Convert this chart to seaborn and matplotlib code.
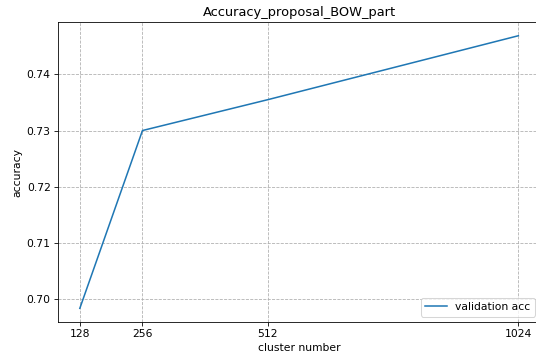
import pandas as pd
import matplotlib
matplotlib.use("Agg")
import matplotlib.pyplot as plt
import seaborn as sns

cluster_number = [128, 256, 512, 1024]
validation_acc = [0.6983, 0.7300, 0.7355, 0.7469]

df = pd.DataFrame({"cluster number": cluster_number, "accuracy": validation_acc})

plt.rcParams["font.size"] = 10.5
plt.rcParams["axes.titlesize"] = 12.6

fig = plt.figure(figsize=(536 / 74, 360 / 74), dpi=74)
ax = fig.add_axes([0.108, 0.1056, 0.9, 0.833])
sns.lineplot(data=df, x="cluster number", y="accuracy", ax=ax,
             color="#1f77b4", label="validation acc")
ax.set_xticks(cluster_number)
ax.grid(True, linestyle="--", color="#b0b0b0")
ax.set_title("Accuracy_proposal_BOW_part")
ax.legend(loc="lower right")
fig.savefig("out.png", dpi=74)
